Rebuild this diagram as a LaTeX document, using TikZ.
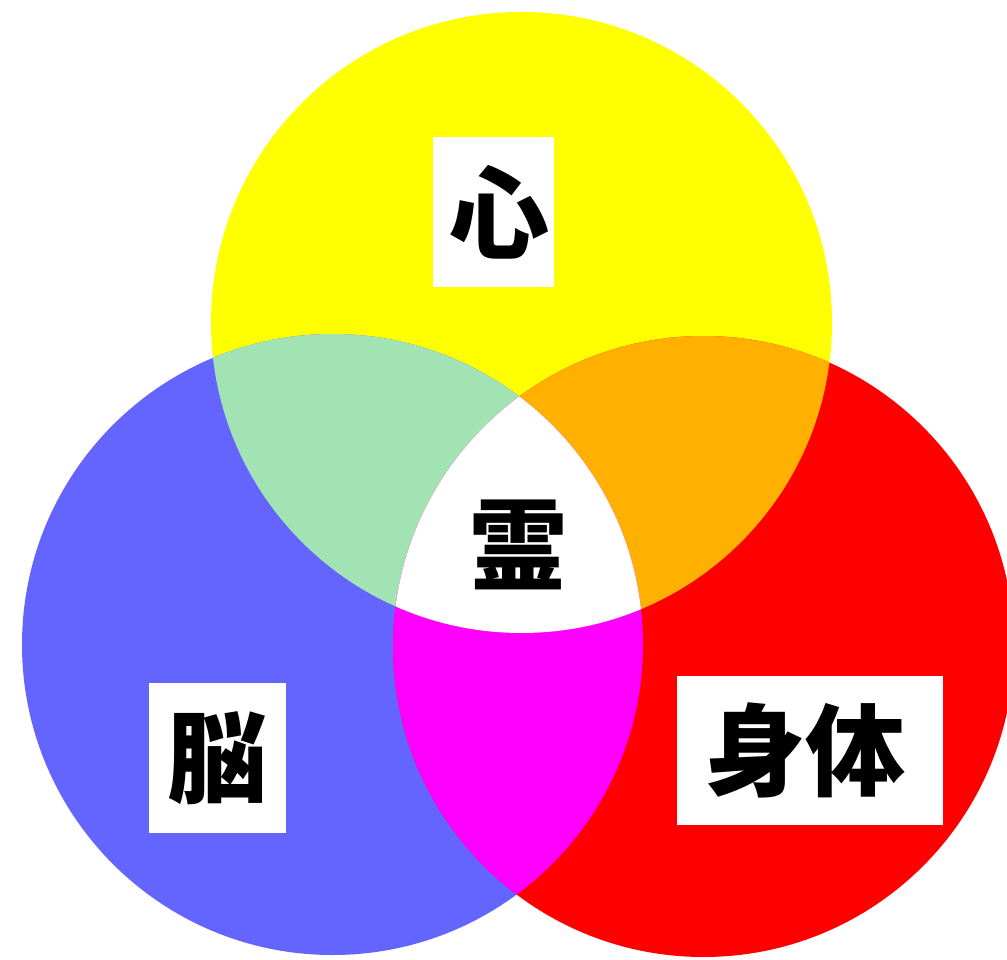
\documentclass[tikz,border=0pt]{standalone}
\usepackage{fontspec}
\newfontfamily\cjk{Noto Sans CJK JP}
\definecolor{cyel}{HTML}{FFFF00}
\definecolor{cblu}{HTML}{6464FF}
\definecolor{cred}{HTML}{FF0000}
\definecolor{cgrn}{HTML}{A2E3B4}
\definecolor{corg}{HTML}{FFB000}
\definecolor{cmag}{HTML}{FF00FF}
\tikzset{
  labelbox/.style={fill=white, inner sep=0pt, font=\cjk\bfseries\fontsize{100}{100}\selectfont, text=black},
  plainlabel/.style={inner sep=0pt, font=\cjk\bfseries\fontsize{100}{100}\selectfont, text=black}
}
\begin{document}
\begin{tikzpicture}[x=1pt,y=-1pt]
\useasboundingbox (0,0) rectangle (1007,960);
\fill[white] (0,0) rectangle (1007,960);
\coordinate (Y) at (521.5,322.5);
\coordinate (B) at (332.5,644.5);
\coordinate (R) at (703.5,646.5);
\def\rr{310.5}
\fill[cyel] (Y) circle (\rr);
\fill[cblu] (B) circle (\rr);
\fill[cred] (R) circle (\rr);
\begin{scope}
  \clip (Y) circle (\rr);
  \fill[cgrn] (B) circle (\rr);
  \fill[corg] (R) circle (\rr);
\end{scope}
\begin{scope}
  \clip (B) circle (\rr);
  \fill[cmag] (R) circle (\rr);
  \clip (R) circle (\rr);
  \fill[white] (Y) circle (\rr);
\end{scope}
\node[labelbox, minimum width=121pt, minimum height=149pt] (kokoro) at (493.5,212) {\hspace*{12pt}心};
\node[labelbox, minimum width=137pt, minimum height=150pt] (nou) at (217.5,758) {脳};
\node[labelbox, minimum width=266pt, minimum height=149pt] (shintai) at (810,750.5) {身体\hspace*{10pt}};
\node[plainlabel] (rei) at (518.5,544.5) {霊};
\end{tikzpicture}
\end{document}
